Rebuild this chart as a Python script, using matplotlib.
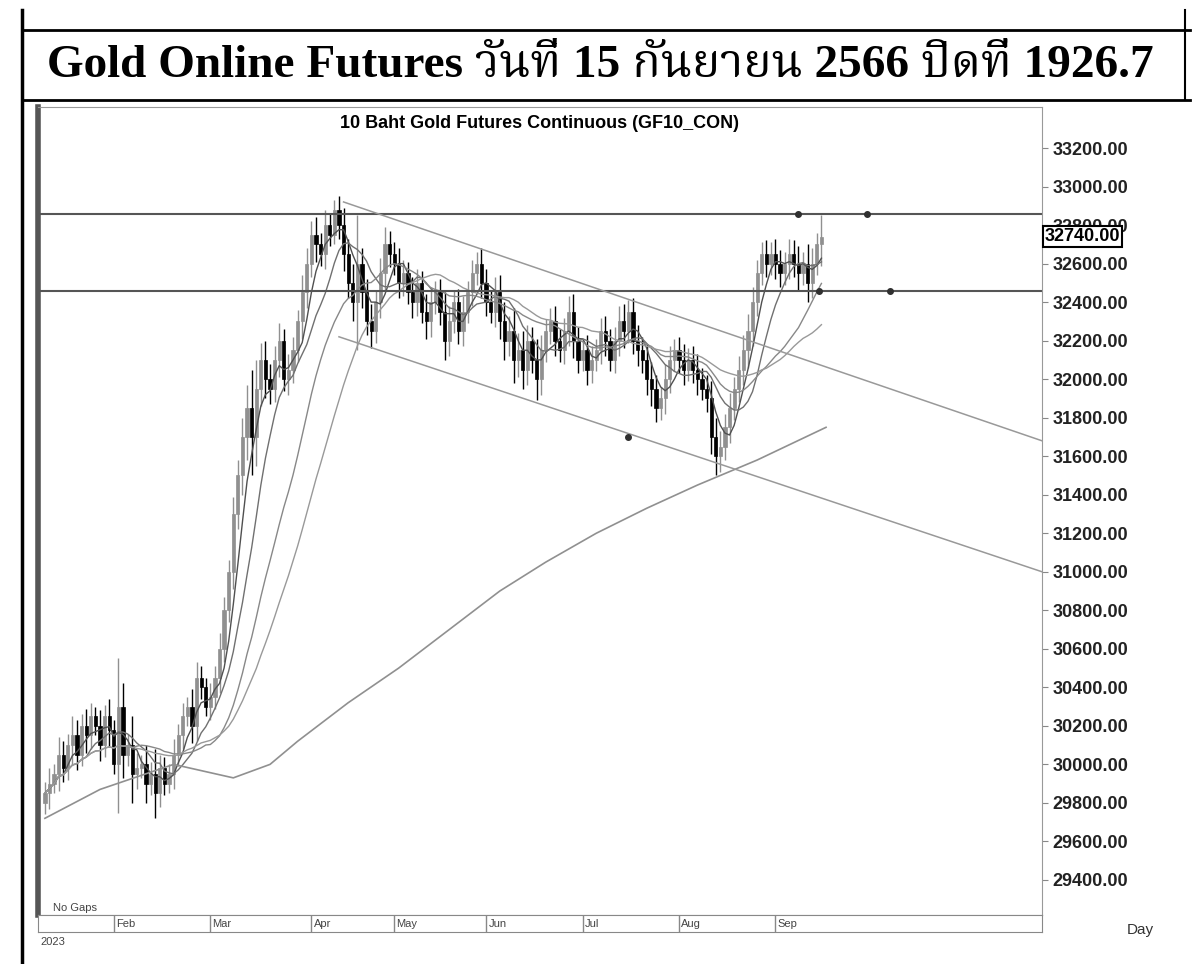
import numpy as np
import pandas as pd
import matplotlib.pyplot as plt
from matplotlib.patches import Rectangle
from matplotlib.lines import Line2D

# daily closes, bar index = trading day from 10 Jan 2023
closes = [
    29850, 29900, 29950, 30050, 29980, 30100, 30150, 30050, 30200, 30150,
    30250, 30200, 30100, 30250, 30180, 30000, 30300, 30050, 30100, 29950,
    29980, 30000, 29900, 29950, 29850, 29980, 29900, 29950, 30050, 30150,
    30250, 30300, 30200, 30450, 30400, 30300, 30350, 30450, 30600, 30800,
    31000, 31300, 31500, 31700, 31850, 31700, 31950, 32100, 32000, 31950,
    32100, 32200, 32000, 32050, 32150, 32300, 32450, 32600, 32750, 32700,
    32650, 32800, 32750, 32880, 32800, 32650, 32500, 32400, 32600, 32450,
    32300, 32250, 32400, 32550, 32700, 32650, 32600, 32500, 32550, 32450,
    32400, 32500, 32350, 32300, 32400, 32450, 32350, 32200, 32300, 32400,
    32250, 32350, 32450, 32550, 32600, 32500, 32400, 32350, 32450, 32300,
    32200, 32250, 32100, 32150, 32050, 32200, 32100, 32000, 32150, 32250,
    32300, 32200, 32150, 32250, 32350, 32200, 32100, 32150, 32050, 32100,
    32150, 32250, 32200, 32100, 32200, 32300, 32250, 32350, 32200, 32150,
    32100, 32000, 31950, 31850, 31900, 32000, 32100, 32150, 32100, 32050,
    32100, 32050, 32000, 31950, 31900, 31700, 31600, 31650, 31750, 31850,
    31950, 32050, 32150, 32250, 32400, 32550, 32650, 32600, 32650, 32600,
    32550, 32600, 32650, 32600, 32550, 32600, 32500, 32600, 32700, 32740,
]
# wick length beyond the body, per bar
wicks = [
    60, 80, 50, 90, 70, 60, 100, 80, 60, 90,
    70, 50, 80, 60, 90, 50, 250, 120, 60, 150,
    80, 50, 100, 60, 130, 70, 60, 50, 80, 60,
    70, 50, 90, 80, 60, 50, 70, 60, 80, 70,
    60, 90, 80, 100, 120, 200, 150, 90, 100, 80,
    70, 90, 60, 80, 70, 60, 90, 80, 70, 90,
    60, 80, 60, 50, 70, 90, 80, 100, 250, 80,
    70, 90, 60, 80, 90, 70, 60, 80, 70, 60,
    80, 70, 60, 90, 80, 60, 70, 100, 80, 60,
    70, 80, 60, 70, 60, 80, 70, 60, 80, 90,
    100, 80, 120, 90, 100, 80, 70, 110, 80, 60,
    70, 80, 60, 70, 80, 90, 70, 60, 80, 70,
    60, 70, 80, 60, 70, 80, 90, 60, 70, 80,
    70, 80, 90, 70, 60, 80, 70, 60, 70, 80,
    60, 70, 80, 60, 70, 90, 100, 80, 70, 80,
    60, 70, 80, 90, 80, 70, 60, 70, 60, 80,
    70, 60, 80, 70, 90, 60, 100, 80, 60, 110,
]
# long moving average (bar index, value)
long_ma_idx = [0, 12, 28, 41, 49, 55, 66, 77, 88, 99, 109, 120, 131, 142, 155, 170]
long_ma_val = [29720, 29870, 30000, 29930, 30000, 30120, 30320, 30500, 30700,
               30900, 31050, 31200, 31330, 31450, 31580, 31750]

months = ["Feb", "Mar", "Apr", "May", "Jun", "Jul", "Aug", "Sep"]
month_idx = [15, 36, 58, 76, 96, 117, 138, 159]

resist = [32860, 32460]
upper_chan = ([65, 217], [32920, 31680])
lower_chan = ([64, 217], [32220, 31000])
marks_x = [164, 179, 168.5, 184, 127]
marks_y = [32860, 32860, 32460, 32460, 31700]
last_price = 32740

fig = plt.figure(figsize=(12, 9.64), dpi=100)

# frame and title row
fig.add_artist(Line2D([22/1200, 22/1200], [0, 1 - 10/964], color="black", lw=2.5))
fig.add_artist(Line2D([1185/1200, 1185/1200], [1 - 100/964, 1 - 10/964], color="black", lw=1.5))
fig.add_artist(Line2D([22/1200, 1190/1200], [1 - 30/964, 1 - 30/964], color="black", lw=2))
fig.add_artist(Line2D([22/1200, 1190/1200], [1 - 100/964, 1 - 100/964], color="black", lw=2))
fig.text(0.5, 1 - 66/964, "Gold Online Futures วันที่ 15 กันยายน 2566 ปิดที่ 1926.7",
         ha="center", va="center", fontsize=34, fontweight="bold",
         family=["Liberation Serif", "Noto Serif Thai", "Noto Sans Thai", "DejaVu Sans"])

ax = fig.add_axes([38/1200, 1 - 915/964, 1004/1200, 808/964])
ax.set_xlim(-1.5, 217)
ax.set_ylim(29218, 33413)

n = len(closes)
idx = np.arange(n)
opens = [closes[0] - 50] + closes[:-1]
for i in range(n):
    o, c = opens[i], closes[i]
    hi = max(o, c) + wicks[i]
    lo = min(o, c) - wicks[i]
    col = "black" if c < o else "#909090"
    ax.vlines(i, lo, hi, color=col, lw=1)
    ax.add_patch(Rectangle((i - 0.35, min(o, c)), 0.7, max(abs(c - o), 10),
                           facecolor=col, edgecolor=col, lw=0.5))

s = pd.Series(closes, dtype=float)
for w, col in [(5, "#505050"), (10, "#707070"), (20, "#888888"), (30, "#999999")]:
    ax.plot(idx, s.rolling(w, min_periods=1).mean(), color=col, lw=1)
ax.plot(long_ma_idx, long_ma_val, color="#909090", lw=1.2)

for r in resist:
    ax.axhline(r, color="#555555", lw=1.5)
ax.plot(*upper_chan, color="#999999", lw=1.1)
ax.plot(*lower_chan, color="#999999", lw=1.1)
ax.plot(marks_x, marks_y, "o", color="#303030", ms=4)

ax.yaxis.tick_right()
ax.set_yticks(np.arange(29400, 33201, 200))
ax.set_yticklabels([f"{v:.2f}" for v in np.arange(29400, 33201, 200)],
                   fontsize=13, fontweight="bold", family="Liberation Sans", color="#222222")
ax.tick_params(axis="y", length=4, color="#888888")
ax.set_xticks([])
for sp in ax.spines.values():
    sp.set_color("#999999")
ax.spines["left"].set_color("#555555")
ax.spines["left"].set_linewidth(4)

ax.text(0.5, 0.99, "10 Baht Gold Futures Continuous (GF10_CON)", transform=ax.transAxes,
        ha="center", va="top", fontsize=13, fontweight="bold", family="Liberation Sans")
ax.text(0.015, 0.003, "No Gaps", transform=ax.transAxes, ha="left", va="bottom",
        fontsize=8, color="#444444", family="Liberation Sans")
ax.text(1.003, last_price, f"{last_price:.2f}", transform=ax.get_yaxis_transform(),
        ha="left", va="center", fontsize=13, fontweight="bold", family="Liberation Sans",
        zorder=10, clip_on=False,
        bbox=dict(boxstyle="square,pad=0.1", facecolor="white", edgecolor="black", lw=1.5))

# month strip
mx = fig.add_axes([38/1200, 1 - 932/964, 1004/1200, 17/964])
mx.set_xlim(-1.5, 217)
mx.set_ylim(0, 1)
mx.set_xticks([])
mx.set_yticks([])
for sp in mx.spines.values():
    sp.set_color("#888888")
for m, i in zip(months, month_idx):
    mx.axvline(i, color="#888888", lw=1)
    mx.text(i + 0.5, 0.45, m, ha="left", va="center", fontsize=8, color="#444444",
            family="Liberation Sans")
fig.text(40/1200, 1 - 942/964, "2023", fontsize=8, color="#444444", va="center",
         family="Liberation Sans")
fig.text(1140/1200, 1 - 930/964, "Day", fontsize=11, color="#333333", ha="center",
         va="center", family="Liberation Sans")

fig.savefig("out.png", dpi=100)
